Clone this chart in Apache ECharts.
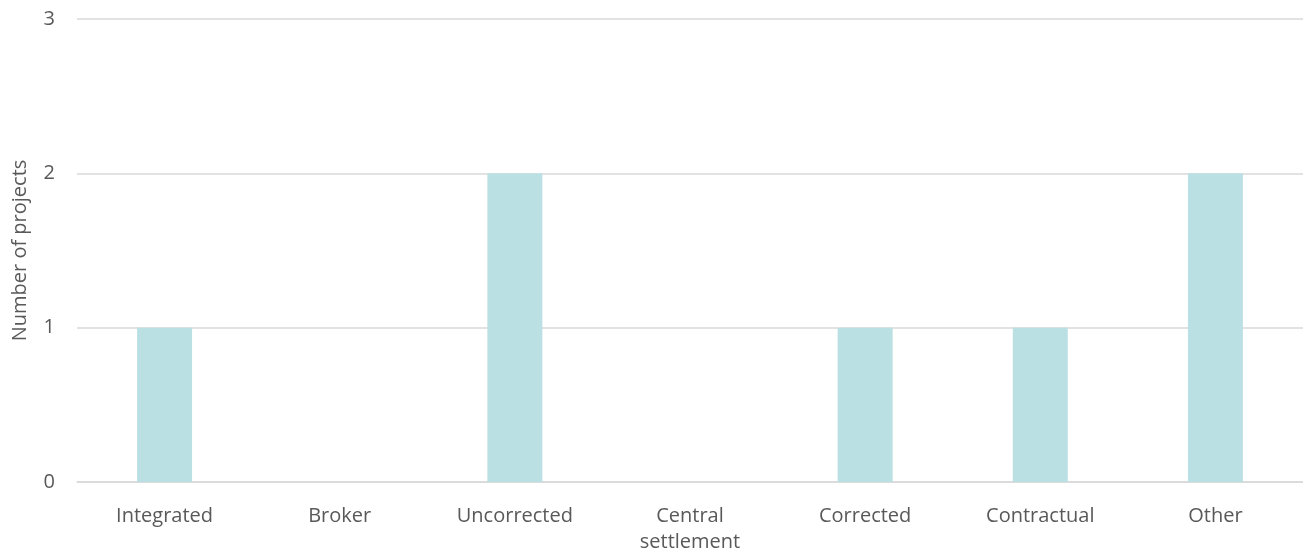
<!DOCTYPE html>
<html>
<head>
<meta charset="utf-8">
<script src="https://cdn.jsdelivr.net/npm/echarts@6/dist/echarts.min.js"></script>
<style>
  html, body { margin: 0; padding: 0; background: #ffffff; }
  #chart { width: 1303px; height: 552px; }
</style>
</head>
<body>
<div id="chart"></div>
<script>
// Settlement model categories and project counts
const categories = ['Integrated', 'Broker', 'Uncorrected', 'Central\nsettlement', 'Corrected', 'Contractual', 'Other'];
const projectCounts = [1, 0, 2, 0, 1, 1, 2];
const yTicks = [0, 1, 2, 3];

const textColor = '#595959';
const gridColor = '#d9d9d9';
const fontFamily = '"Open Sans", "Noto Sans", sans-serif';
const fontSize = 20;

const chart = echarts.init(document.getElementById('chart'), null, { renderer: 'canvas' });
chart.setOption({
  animation: false,
  backgroundColor: '#ffffff',
  grid: { left: 77, right: 0, top: 19, bottom: 70, containLabel: false, outerBoundsMode: 'none' },
  xAxis: {
    type: 'category',
    data: categories,
    axisLine: { show: true, lineStyle: { color: gridColor, width: 1.5 } },
    axisTick: { show: false },
    axisLabel: {
      color: textColor, fontFamily: fontFamily, fontSize: fontSize,
      margin: 21, lineHeight: 26, interval: 0
    }
  },
  yAxis: {
    type: 'value',
    min: yTicks[0],
    max: yTicks[yTicks.length - 1],
    interval: 1,
    name: 'Number of projects',
    nameLocation: 'middle',
    nameGap: 47,
    nameTextStyle: { color: textColor, fontFamily: fontFamily, fontSize: fontSize },
    axisLine: { show: false },
    axisTick: { show: false },
    axisLabel: { color: textColor, fontFamily: fontFamily, fontSize: fontSize, margin: 22 },
    splitLine: { lineStyle: { color: gridColor, width: 1.5 } }
  },
  series: [{
    type: 'bar',
    data: projectCounts,
    barWidth: 55,
    itemStyle: { color: '#bbe0e3' }
  }]
});
</script>
</body>
</html>
